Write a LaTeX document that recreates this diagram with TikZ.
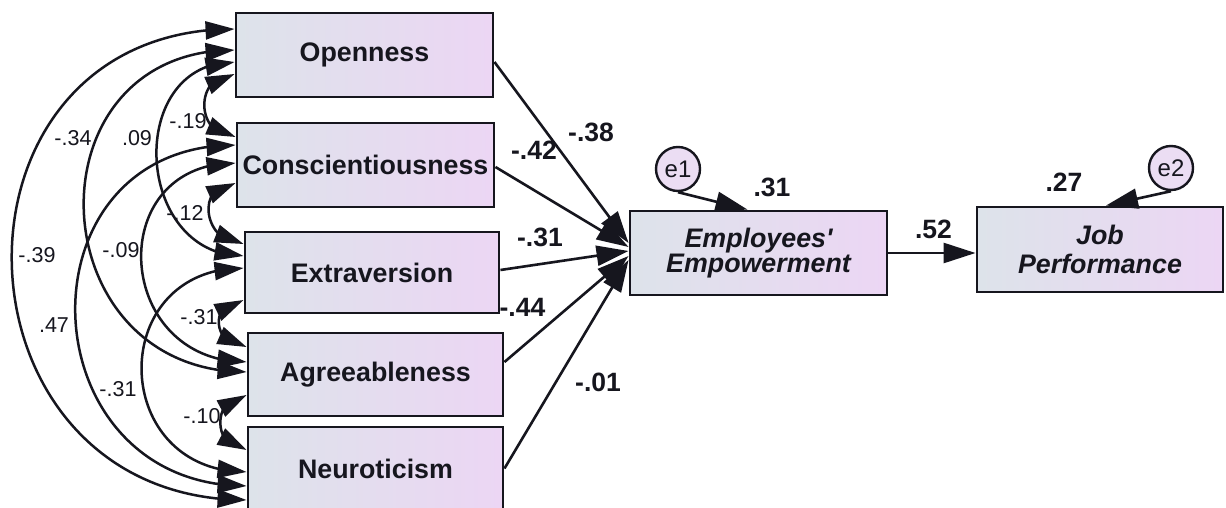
\documentclass[tikz,border=0pt]{standalone}
\usepackage{fontspec}
\setmainfont{Liberation Sans}[Ligatures=TeXOff]
\usetikzlibrary{arrows.meta,bending}
\definecolor{boxleft}{HTML}{DDE3EA}
\definecolor{boxright}{HTML}{ECD6F4}
\definecolor{errfill}{HTML}{EBDDF3}
\definecolor{ink}{HTML}{16161E}
\begin{document}
\begin{tikzpicture}[x=1pt,y=-1pt,
  varbox/.style 2 args={rectangle, draw=ink, line width=2.9pt,
    left color=boxleft, right color=boxright, inner sep=0pt,
    minimum width=#1, minimum height=#2, text=ink,
    font=\fontsize{26.8}{25}\selectfont\bfseries},
  latent/.style={font=\fontsize{26.8}{25}\selectfont\bfseries\itshape, align=center},
  err/.style={circle, draw=ink, line width=2.4pt, fill=errfill,
    minimum size=44pt, inner sep=0pt, text=ink,
    font=\fontsize{24}{24}\selectfont},
  plab/.style={inner sep=0pt, text=ink, font=\fontsize{26.5}{26.5}\selectfont\bfseries},
  clab/.style={inner sep=0pt, text=ink, font=\fontsize{21.5}{21.5}\selectfont},
  pth/.style={draw=ink, line width=2.6pt, -{Triangle[length=32pt,width=20pt]}},
  cov/.style={draw=ink, line width=2.5pt,
    {Triangle[length=29pt,width=18pt,flex]}-{Triangle[length=29pt,width=18pt,flex]}}]

\path[use as bounding box, fill=white] (0,0) rectangle (1226,508);

% observed variables (Big Five)
\node[varbox={257pt}{84pt}] (O) at (364.5,55)   {Openness};
\node[varbox={257pt}{84pt}] (C) at (365.5,165)  {Conscientiousness};
\node[varbox={254pt}{81pt}] (E) at (372,272.5)  {Extraversion};
\node[varbox={255pt}{83pt}] (A) at (375.5,374.5){Agreeableness};
\node[varbox={255pt}{83pt}] (N) at (375.5,468.5){Neuroticism};

% endogenous variables
\node[varbox={257pt}{84pt}, latent] (EE) at (758.5,253) {Employees\symbol{39}\\Empowerment};
\node[varbox={246pt}{85pt}, latent, font=\fontsize{26.8}{29}\selectfont\bfseries\itshape] (JP) at (1100,249.5) {Job\\Performance};

% error terms
\node[err] (e1) at (678,169) {e1};
\node[err] (e2) at (1171,168) {e2};

% covariances among the predictors
\draw[cov] ([yshift=26pt]O.west)   to[out=180,in=180,distance=305pt] ([yshift=-31.5pt]N.west);
\draw[cov] ([yshift=5pt]O.west)    to[out=180,in=180,distance=209pt] ([yshift=2.5pt]A.west);
\draw[cov] ([yshift=-7pt]O.west)   to[out=180,in=180,distance=110pt] ([yshift=16.5pt]E.west);
\draw[cov] ([yshift=-19pt]O.west)  to[out=180,in=180,distance=41pt]  ([yshift=28pt]C.west);
\draw[cov] ([yshift=20pt]C.west)   to[out=180,in=180,distance=221pt] ([yshift=-17.5pt]N.west);
\draw[cov] ([yshift=2pt]C.west)    to[out=180,in=180,distance=133pt] ([yshift=12.5pt]A.west);
\draw[cov] ([yshift=-18pt]C.west)  to[out=180,in=180,distance=41pt]  ([yshift=28.5pt]E.west);
\draw[cov] ([yshift=4.5pt]E.west)  to[out=180,in=180,distance=138pt] ([yshift=-3.5pt]N.west);
\draw[cov] ([yshift=-27.5pt]E.west)to[out=180,in=180,distance=35pt]  ([yshift=27.5pt]A.west);
\draw[cov] ([yshift=-20.5pt]A.west)to[out=180,in=180,distance=35pt]  ([yshift=18.5pt]N.west);

% covariance estimates
\node[clab] (k1)  at (73,138)  {-.34};
\node[clab] (k2)  at (137,138) {.09};
\node[clab] (k3)  at (188,121) {-.19};
\node[clab] (k4)  at (185,213) {-.12};
\node[clab] (k5)  at (37,255)  {-.39};
\node[clab] (k6)  at (121,250) {-.09};
\node[clab] (k7)  at (54,325)  {.47};
\node[clab] (k8)  at (199,317) {-.31};
\node[clab] (k9)  at (118,389) {-.31};
\node[clab] (k10) at (202,416) {-.10};

% structural paths
\draw[pth] ([yshift=-7pt]O.east)    -- ([yshift=10pt]EE.west);
\draw[pth] ([yshift=-2pt]C.east)    -- ([yshift=6pt]EE.west);
\draw[pth] ([yshift=2.5pt]E.east)   -- ([yshift=2pt]EE.west);
\draw[pth] ([yshift=12.5pt]A.east)  -- ([yshift=-3pt]EE.west);
\draw[pth] (N.east)                 -- ([yshift=-7pt]EE.west);
\draw[pth] (EE.east) -- (EE.east -| JP.west);
\draw[pth] (e1.south) -- ([xshift=-11pt]EE.north);
\draw[pth] (e2.south) -- ([xshift=6pt]JP.north);

% path coefficients and squared multiple correlations
\node[plab] (p1) at (591,132)   {-.38};
\node[plab] (p2) at (534,150)   {-.42};
\node[plab] (p3) at (540,237)   {-.31};
\node[plab] (p4) at (522.5,307) {-.44};
\node[plab] (p5) at (598,382)   {-.01};
\node[plab] (p6) at (933.5,229) {.52};
\node[plab] (r1) at (772,187)   {.31};
\node[plab] (r2) at (1064,182)  {.27};
\end{tikzpicture}
\end{document}
